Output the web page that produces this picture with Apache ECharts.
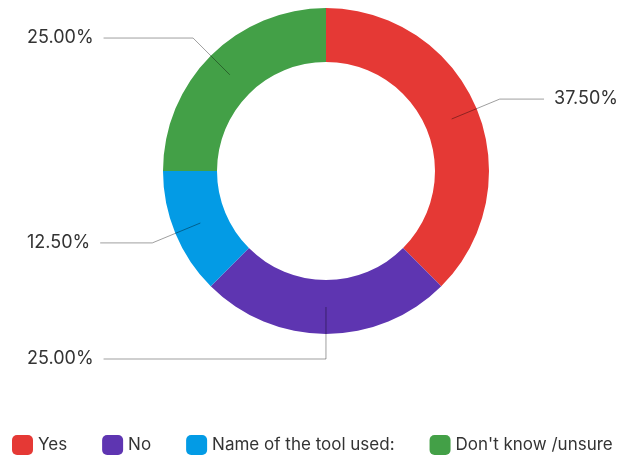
<!DOCTYPE html>
<html>
<head>
<meta charset="utf-8">
<script src="https://cdn.jsdelivr.net/npm/echarts@6/dist/echarts.min.js"></script>
<style>
  html, body { margin: 0; padding: 0; background: #fff; }
  #chart { width: 622px; height: 459px; }
</style>
</head>
<body>
<div id="chart"></div>
<script>
// Survey answers and their shares (percent)
const categories = ['Yes', 'No', 'Name of the tool used:', "Don't know /unsure"];
const shares = [37.5, 25, 12.5, 25];
const colors = ['#e53935', '#5e35b1', '#039be5', '#43a047'];

const FONT = 'Inter';
const pieData = categories.map((name, i) => ({ name: name, value: shares[i] }));

const chart = echarts.init(document.getElementById('chart'), null, { renderer: 'canvas' });

// Shared layout box for both pie layers (labels align to its edges)
const box = { left: 25, top: 0, right: 2, bottom: 0 };
const center = [326 - box.left, 171];

chart.setOption({
  animation: false,
  color: colors,
  legend: {
    data: categories,
    left: 7,
    right: 0,
    top: 430,
    padding: [5, 0, 5, 5],
    icon: 'roundRect',
    itemWidth: 21,
    itemHeight: 20,
    itemGap: 35,
    textStyle: { fontFamily: FONT, fontSize: 17, color: '#333' }
  },
  series: [
    {
      // the coloured ring
      type: 'pie',
      ...box,
      center: center,
      radius: [109, 163],
      startAngle: 90,
      clockwise: true,
      silent: true,
      label: { show: false },
      labelLine: { show: false },
      data: pieData
    },
    {
      // transparent layer carrying the percentage labels; its leader
      // lines start from the middle of the ring. The tiny start offset
      // sends the bottom label to the left side.
      type: 'pie',
      ...box,
      center: center,
      radius: [0, 136],
      startAngle: 89.99,
      clockwise: true,
      silent: true,
      z: 5,
      itemStyle: { color: 'rgba(0,0,0,0)' },
      label: {
        show: true,
        formatter: p => p.value.toFixed(2) + '%',
        alignTo: 'edge',
        edgeDistance: 2,
        distanceToLabelLine: 10,
        fontFamily: FONT,
        fontSize: 18,
        color: '#333'
      },
      labelLine: {
        show: true,
        length: 52,
        length2: 10,
        lineStyle: { color: 'rgba(0,0,0,0.38)', width: 1 }
      },
      data: pieData
    }
  ]
});
</script>
</body>
</html>
